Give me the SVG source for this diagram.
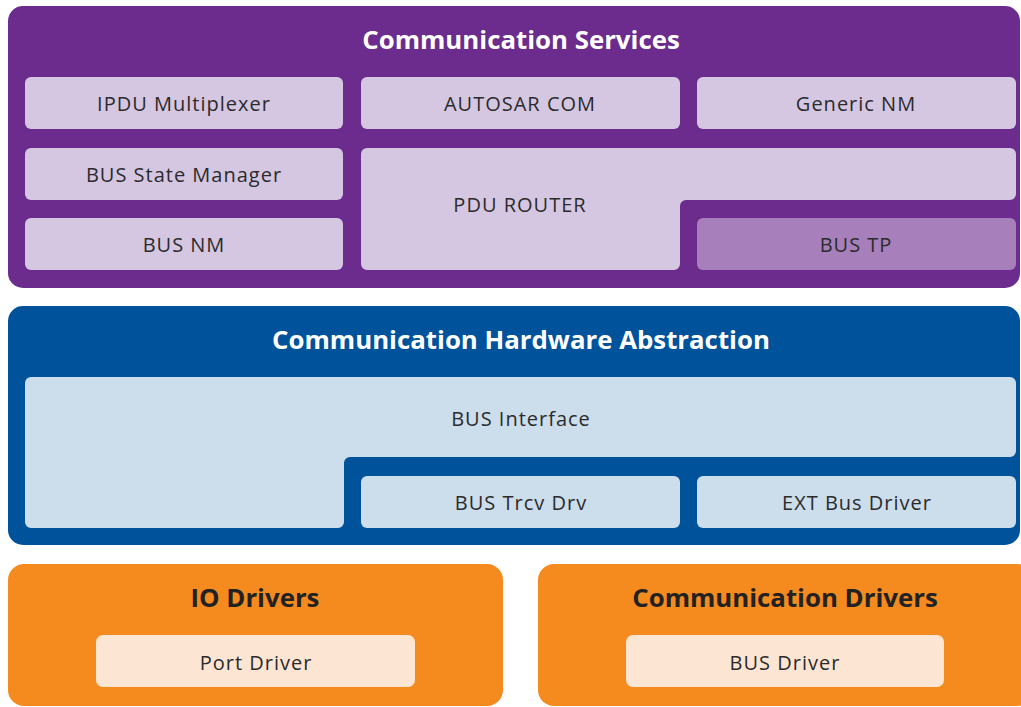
<svg xmlns="http://www.w3.org/2000/svg" width="1021" height="707" viewBox="0 0 1021 707">
  <style>
    .title { font-family: "Open Sans", "Liberation Sans", sans-serif; font-weight: 700; font-size: 25.8px; text-anchor: middle; }
    .label { font-family: "Open Sans", "Liberation Sans", sans-serif; font-size: 20px; letter-spacing: 1px; fill: #2b2b2b; text-anchor: middle; dominant-baseline: central; }
    .svc-panel { fill: #6b2c8e; }
    .svc-box { fill: #d5c7e2; }
    .svc-tp { fill: #a67fbb; }
    .hw-panel { fill: #00529b; }
    .hw-box { fill: #ccddeb; }
    .drv-panel { fill: #f58a1f; }
    .drv-box { fill: #fde5d3; }
  </style>
  <rect width="1021" height="707" fill="#ffffff"/>

  <!-- Communication Services layer -->
  <g id="communication-services">
    <rect class="svc-panel" x="8" y="6" width="1012" height="282" rx="15"/>
    <text class="title" x="521" y="49" fill="#ffffff">Communication Services</text>
  </g>
  <g id="ipdu-multiplexer">
    <rect class="svc-box" x="25" y="77" width="318" height="52" rx="6"/>
    <text class="label" x="184" y="103">IPDU Multiplexer</text>
  </g>
  <g id="autosar-com">
    <rect class="svc-box" x="361" y="77" width="319" height="52" rx="6"/>
    <text class="label" x="520" y="103">AUTOSAR COM</text>
  </g>
  <g id="generic-nm">
    <rect class="svc-box" x="697" y="77" width="319" height="52" rx="6"/>
    <text class="label" x="856" y="103">Generic NM</text>
  </g>
  <g id="bus-state-manager">
    <rect class="svc-box" x="25" y="148" width="318" height="52" rx="6"/>
    <text class="label" x="184" y="174">BUS State Manager</text>
  </g>
  <g id="bus-nm">
    <rect class="svc-box" x="25" y="218" width="318" height="52" rx="6"/>
    <text class="label" x="184" y="244">BUS NM</text>
  </g>
  <g id="pdu-router">
    <path class="svc-box" d="M367,148 H1010 A6,6 0 0 1 1016,154 V194 A6,6 0 0 1 1010,200 H686 A6,6 0 0 0 680,206 V264 A6,6 0 0 1 674,270 H367 A6,6 0 0 1 361,264 V154 A6,6 0 0 1 367,148 Z"/>
    <text class="label" x="520" y="204">PDU ROUTER</text>
  </g>
  <g id="bus-tp">
    <rect class="svc-tp" x="697" y="218" width="319" height="52" rx="6"/>
    <text class="label" x="856" y="244">BUS TP</text>
  </g>

  <!-- Communication Hardware Abstraction layer -->
  <g id="communication-hardware-abstraction">
    <rect class="hw-panel" x="8" y="306" width="1012" height="239" rx="15"/>
    <text class="title" x="521" y="349" fill="#ffffff">Communication Hardware Abstraction</text>
  </g>
  <g id="bus-interface">
    <path class="hw-box" d="M31,377 H1010 A6,6 0 0 1 1016,383 V451 A6,6 0 0 1 1010,457 H350 A6,6 0 0 0 344,463 V522 A6,6 0 0 1 338,528 H31 A6,6 0 0 1 25,522 V383 A6,6 0 0 1 31,377 Z"/>
    <text class="label" x="521" y="418">BUS Interface</text>
  </g>
  <g id="bus-trcv-drv">
    <rect class="hw-box" x="361" y="476" width="319" height="52" rx="6"/>
    <text class="label" x="521" y="502">BUS Trcv Drv</text>
  </g>
  <g id="ext-bus-driver">
    <rect class="hw-box" x="697" y="476" width="319" height="52" rx="6"/>
    <text class="label" x="857" y="502">EXT Bus Driver</text>
  </g>

  <!-- Drivers layer -->
  <g id="io-drivers">
    <rect class="drv-panel" x="8" y="564" width="495" height="142" rx="16"/>
    <text class="title" x="255" y="607" fill="#222222">IO Drivers</text>
  </g>
  <g id="port-driver">
    <rect class="drv-box" x="96" y="635" width="319" height="52" rx="7"/>
    <text class="label" x="256" y="662">Port Driver</text>
  </g>
  <g id="communication-drivers">
    <rect class="drv-panel" x="538" y="564" width="495" height="142" rx="16"/>
    <text class="title" x="785" y="607" fill="#222222">Communication Drivers</text>
  </g>
  <g id="bus-driver">
    <rect class="drv-box" x="626" y="635" width="318" height="52" rx="7"/>
    <text class="label" x="785" y="662">BUS Driver</text>
  </g>
</svg>
